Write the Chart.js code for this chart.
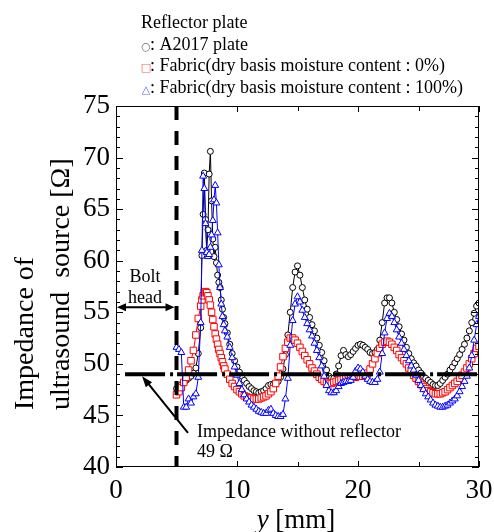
<!DOCTYPE html>
<html>
<head>
<meta charset="utf-8">
<script src="https://cdn.jsdelivr.net/npm/chart.js@4.4.1/dist/chart.umd.min.js"></script>
<style>
  html, body { margin: 0; padding: 0; background: #fff; }
</style>
</head>
<body>
<canvas id="impedanceChart" width="494" height="532"></canvas>
<script>
// measurement positions y [mm]
const positions = [
  5.0, 5.2, 5.4, 5.6, 5.8, 6.0, 6.2, 6.4, 6.6, 6.8,
  7.0, 7.1, 7.2, 7.3, 7.4, 7.5, 7.6, 7.7, 7.8, 7.9, 8.0, 8.1, 8.2, 8.3, 8.4, 8.5, 8.6, 8.7, 8.8, 8.9, 9.0,
  9.2, 9.4, 9.6, 9.8, 10.0, 10.2, 10.4, 10.6, 10.8, 11.0,
  11.2, 11.4, 11.6, 11.8, 12.0, 12.2, 12.4, 12.6, 12.8, 13.0,
  13.2, 13.4, 13.6, 13.8, 14.0, 14.2, 14.4, 14.6, 14.8, 15.0,
  15.2, 15.4, 15.6, 15.8, 16.0, 16.2, 16.4, 16.6, 16.8, 17.0,
  17.2, 17.4, 17.6, 17.8, 18.0, 18.2, 18.4, 18.6, 18.8, 19.0,
  19.2, 19.4, 19.6, 19.8, 20.0, 20.2, 20.4, 20.6, 20.8, 21.0,
  21.2, 21.4, 21.6, 21.8, 22.0, 22.2, 22.4, 22.6, 22.8, 23.0,
  23.2, 23.4, 23.6, 23.8, 24.0, 24.2, 24.4, 24.6, 24.8, 25.0,
  25.2, 25.4, 25.6, 25.8, 26.0, 26.2, 26.4, 26.6, 26.8, 27.0,
  27.2, 27.4, 27.6, 27.8, 28.0, 28.2, 28.4, 28.6, 28.8, 29.0,
  29.2, 29.4, 29.6, 29.8, 30.0
];

// impedance [Ohm], A2017 plate
const a2017Plate = [
  47.6, 47.8, 48.0, 48.2, 48.4, 48.6, 48.8, 49.1, 49.6, 51.0,
  53.5, 60.5, 64.5, 68.5, 64.0, 61.0, 63.0, 68.4, 70.6, 65.8, 62.1, 60.4, 61.3, 59.8, 58.6, 57.9, 57.4, 56.2, 55.3, 54.5, 53.9,
  53.0, 51.9, 51.0, 50.3, 49.7, 49.2, 48.8, 48.4, 48.1, 47.8,
  47.6, 47.4, 47.3, 47.2, 47.3, 47.4, 47.6, 47.9, 48.0, 48.0,
  48.1, 48.3, 48.7, 49.5, 50.9, 52.8, 55.0, 57.4, 58.9, 59.5,
  58.6, 57.4, 56.2, 55.3, 54.5, 53.8, 53.2, 52.5, 51.8, 51.1,
  50.3, 49.4, 48.8, 48.6, 48.6, 49.0, 49.8, 50.8, 51.3, 50.9,
  50.7, 50.9, 51.2, 51.5, 51.8, 51.9, 51.8, 51.6, 51.4, 51.1,
  51.0, 51.1, 51.4, 52.3, 54.0, 55.9, 56.4, 56.4, 55.9, 55.0,
  54.3, 53.6, 52.9, 52.3, 51.6, 51.0, 50.5, 50.1, 49.8, 49.4,
  49.1, 48.8, 48.6, 48.4, 48.2, 48.0, 47.9, 47.9, 48.1, 48.4,
  48.7, 49.0, 49.4, 49.7, 50.1, 50.5, 50.9, 51.4, 51.9, 52.5,
  53.2, 54.0, 54.9, 55.6, 55.9
];

// impedance [Ohm], fabric 0 %
const fabricDry = [
  47.0, 47.3, 47.7, 48.2, 48.7, 49.4, 50.3, 51.3, 52.8, 54.4,
  55.6, 56.2, 56.6, 56.9, 57.0, 56.9, 56.6, 56.2, 55.7, 55.0, 54.3, 53.6, 52.9, 52.4, 51.9, 51.4, 51.0, 50.6, 50.2, 49.8, 49.5,
  49.0, 48.5, 48.1, 47.8, 47.5, 47.3, 47.1, 46.9, 46.8, 46.7,
  46.7, 46.6, 46.6, 46.6, 46.7, 46.8, 46.9, 47.1, 47.3, 47.6,
  48.1, 48.8, 49.7, 50.7, 51.5, 52.1, 52.5, 52.5, 52.3, 52.0,
  51.6, 51.2, 50.8, 50.4, 50.0, 49.6, 49.3, 49.0, 48.7, 48.5,
  48.3, 48.2, 48.1, 48.1, 48.2, 48.3, 48.4, 48.5, 48.6, 48.6,
  48.7, 48.7, 48.7, 48.7, 48.8, 48.8, 48.8, 48.9, 49.1, 49.5,
  50.0, 50.5, 51.0, 51.5, 51.9, 52.1, 52.2, 52.1, 51.9, 51.6,
  51.3, 50.9, 50.6, 50.3, 50.0, 49.6, 49.3, 48.9, 48.6, 48.3,
  48.0, 47.8, 47.6, 47.4, 47.3, 47.2, 47.1, 47.1, 47.1, 47.2,
  47.3, 47.5, 47.7, 47.9, 48.1, 48.3, 48.6, 48.9, 49.2, 49.6,
  50.0, 50.5, 51.0, 51.5, 51.7
];

// impedance [Ohm], fabric 100 %
const fabricWet = [
  51.6, 51.4, 51.1, 45.8, 45.8, 46.6, 46.2, 46.8, 47.1, 48.7,
  54.0, 61.0, 68.2, 67.0, 63.6, 60.8, 60.4, 60.6, 61.3, 62.5, 63.9, 65.9, 67.3, 65.6, 62.7, 59.6, 57.4, 55.8, 54.6, 53.8, 53.2,
  52.6, 51.6, 50.6, 49.7, 48.9, 48.1, 47.5, 47.0, 46.6, 46.3,
  46.0, 45.8, 45.6, 45.4, 45.3, 45.2, 45.2, 45.5, 45.6, 45.2,
  45.0, 44.9, 44.9, 45.1, 46.6, 48.6, 51.8, 54.2, 55.8, 56.5,
  56.0, 55.2, 54.5, 53.9, 53.3, 52.7, 52.0, 51.3, 50.6, 49.8,
  48.8, 47.9, 47.4, 47.2, 47.2, 47.4, 47.8, 48.1, 48.2, 48.3,
  48.3, 48.4, 48.7, 49.3, 49.6, 49.5, 49.2, 48.8, 48.5, 48.3,
  48.2, 48.2, 48.5, 49.2, 51.0, 53.0, 54.4, 54.9, 54.6, 54.0,
  53.3, 52.6, 52.0, 51.4, 50.8, 50.3, 49.8, 49.4, 48.9, 48.4,
  47.9, 47.5, 47.1, 46.8, 46.5, 46.2, 46.0, 45.9, 45.8, 45.8,
  45.9, 46.0, 46.2, 46.4, 46.6, 46.9, 47.3, 47.8, 48.3, 48.8,
  49.6, 50.8, 52.3, 53.8, 54.6
];

const boltEdge = 5;          // mm
const noReflector = 49;      // Ohm
const xLabels = [0, 10, 20, 30];
const xMinor = [5, 15, 25];
const yLabels = [40, 45, 50, 55, 60, 65, 70, 75];

const legendLines = [
  { mark: '', color: '#000', text: 'Reflector plate' },
  { mark: '\u25CB', color: '#666', text: ': A2017 plate' },
  { mark: '\u25A1', color: '#f06060', text: ': Fabric(dry basis moisture content : 0%)' },
  { mark: '\u25B3', color: '#6060ff', text: ': Fabric(dry basis moisture content : 100%)' }
];

const serif = "'Liberation Serif', 'Times New Roman', serif";

function toPoints(vals) {
  return positions.map((p, i) => ({ x: p, y: vals[i] }));
}

function arrowHead(ctx, fx, fy, tx, ty, len, half) {
  const a = Math.atan2(ty - fy, tx - fx);
  ctx.beginPath();
  ctx.moveTo(tx, ty);
  ctx.lineTo(tx - len * Math.cos(a) + half * Math.sin(a), ty - len * Math.sin(a) - half * Math.cos(a));
  ctx.lineTo(tx - len * Math.cos(a) - half * Math.sin(a), ty - len * Math.sin(a) + half * Math.cos(a));
  ctx.closePath();
  ctx.fill();
}

const decorPlugin = {
  id: 'decor',
  afterDraw(chart) {
    const ctx = chart.ctx;
    const xs = chart.scales.x, ys = chart.scales.y;
    const { left, right, top, bottom } = chart.chartArea;
    ctx.save();
    ctx.strokeStyle = '#000';
    ctx.fillStyle = '#000';
    ctx.lineWidth = 1;

    // frame
    ctx.strokeRect(left + 0.5, top + 0.5, right - left - 1, bottom - top - 1);

    // inward ticks
    ctx.beginPath();
    xLabels.concat(xMinor).forEach(v => {
      const px = Math.round(xs.getPixelForValue(v)) + 0.5;
      const len = v % 10 === 0 ? 6 : 5;
      ctx.moveTo(px, bottom); ctx.lineTo(px, bottom - len);
      ctx.moveTo(px, top); ctx.lineTo(px, top + len);
    });
    for (let v = 40; v <= 75; v++) {
      const py = Math.round(ys.getPixelForValue(v)) + 0.5;
      const len = v % 5 === 0 ? 7 : 4;
      ctx.moveTo(left, py); ctx.lineTo(left + len, py);
      ctx.moveTo(right, py); ctx.lineTo(right - len, py);
    }
    ctx.stroke();

    // bolt head arrow
    ctx.lineWidth = 2;
    const ay = ys.getPixelForValue(55.5);
    const ax0 = xs.getPixelForValue(0) + 1, ax1 = xs.getPixelForValue(boltEdge) - 2;
    ctx.beginPath();
    ctx.moveTo(ax0 + 6, ay); ctx.lineTo(ax1 - 6, ay);
    ctx.stroke();
    arrowHead(ctx, ax1, ay, ax0, ay, 9, 4);
    arrowHead(ctx, ax0, ay, ax1, ay, 9, 4);

    ctx.font = '18px ' + serif;
    ctx.textAlign = 'center';
    ctx.textBaseline = 'alphabetic';
    ctx.fillText('Bolt', xs.getPixelForValue(2.4), 282);
    ctx.fillText('head', xs.getPixelForValue(2.4), 303);

    // pointer to the no-reflector level
    const tx = xs.getPixelForValue(2.15), ty = ys.getPixelForValue(noReflector) + 2;
    const fx = xs.getPixelForValue(5.95), fy = ys.getPixelForValue(43.3);
    ctx.beginPath();
    ctx.moveTo(fx, fy); ctx.lineTo(tx + 5, ty + 6);
    ctx.stroke();
    arrowHead(ctx, fx, fy, tx, ty, 11, 4);

    ctx.textAlign = 'left';
    ctx.fillText('Impedance without reflector', xs.getPixelForValue(6.7), 437);
    ctx.fillText('49 \u03A9', xs.getPixelForValue(6.7), 457);

    // legend block
    legendLines.forEach((ln, i) => {
      const by = 28 + i * 21.6;
      if (ln.mark) {
        ctx.font = "11px 'DejaVu Sans'";
        ctx.fillStyle = ln.color;
        ctx.textAlign = 'center';
        ctx.fillText(ln.mark, 146, by);
        ctx.fillStyle = '#000';
        ctx.font = '18px ' + serif;
        ctx.textAlign = 'left';
        ctx.fillText(ln.text, 150, by);
      } else {
        ctx.font = '18px ' + serif;
        ctx.textAlign = 'left';
        ctx.fillText(ln.text, 141, by);
      }
    });

    // x title with italic y
    ctx.font = 'italic 27px ' + serif;
    const w1 = ctx.measureText('y').width;
    ctx.font = '27px ' + serif;
    const w2 = ctx.measureText(' [mm]').width;
    const sx = 296 - (w1 + w2) / 2;
    ctx.font = 'italic 27px ' + serif;
    ctx.fillText('y', sx, 528);
    ctx.font = '27px ' + serif;
    ctx.fillText(' [mm]', sx + w1, 528);

    // y title, two lines
    ctx.font = '28px ' + serif;
    ctx.textBaseline = 'middle';
    ctx.save();
    ctx.translate(26, 410);
    ctx.rotate(-Math.PI / 2);
    ctx.fillText('Impedance of', 0, 0);
    ctx.restore();
    ctx.save();
    ctx.translate(62, 410);
    ctx.rotate(-Math.PI / 2);
    ctx.fillText('ultrasound  source [\u03A9]', 0, 0);
    ctx.restore();

    ctx.restore();
  }
};

new Chart(document.getElementById('impedanceChart').getContext('2d'), {
  type: 'line',
  data: {
    datasets: [
      {
        label: 'Bolt head edge',
        data: [{ x: boltEdge, y: 75 }, { x: boltEdge, y: 40 }],
        borderColor: '#000', borderWidth: 4, borderDash: [14, 11],
        pointRadius: 0, order: 0
      },
      {
        label: 'Impedance without reflector',
        data: [{ x: 0.75, y: noReflector }, { x: 30, y: noReflector }],
        borderColor: '#000', borderWidth: 4, borderDash: [40, 5, 3, 4],
        pointRadius: 0, order: 0
      },
      {
        label: 'Fabric (100%)',
        data: toPoints(fabricWet),
        borderColor: '#0000ff', borderWidth: 1,
        pointStyle: 'triangle', pointRadius: 4, pointBorderWidth: 1,
        pointBorderColor: '#0000ff', pointBackgroundColor: '#ffffff',
        order: 1
      },
      {
        label: 'Fabric (0%)',
        data: toPoints(fabricDry),
        borderColor: '#ff0000', borderWidth: 1,
        pointStyle: 'rect', pointRadius: 4.6, pointBorderWidth: 1,
        pointBorderColor: '#ff0000', pointBackgroundColor: '#ffffff',
        order: 2
      },
      {
        label: 'A2017 plate',
        data: toPoints(a2017Plate),
        borderColor: '#000000', borderWidth: 1,
        pointStyle: 'circle', pointRadius: 3, pointBorderWidth: 1,
        pointBorderColor: '#000000', pointBackgroundColor: '#ffffff',
        order: 3
      }
    ]
  },
  options: {
    responsive: false,
    animation: false,
    devicePixelRatio: 1,
    layout: { padding: { top: 106, right: 15, left: 0, bottom: 0 } },
    plugins: { legend: { display: false }, tooltip: { enabled: false } },
    scales: {
      x: {
        type: 'linear', min: 0, max: 30,
        afterFit: s => { s.height = 65; s.paddingLeft = 0; s.paddingRight = 0; },
        afterBuildTicks: s => { s.ticks = xLabels.map(v => ({ value: v })); },
        grid: { display: false, drawTicks: false },
        border: { display: false },
        ticks: { color: '#000', font: { family: serif, size: 27 }, padding: 8, maxRotation: 0 }
      },
      y: {
        type: 'linear', min: 40, max: 75,
        afterFit: s => { s.width = 116; s.paddingTop = 0; s.paddingBottom = 0; },
        afterBuildTicks: s => { s.ticks = yLabels.map(v => ({ value: v })); },
        grid: { display: false, drawTicks: false },
        border: { display: false },
        ticks: { color: '#000', font: { family: serif, size: 27 }, padding: 6 }
      }
    }
  },
  plugins: [decorPlugin]
});
</script>
</body>
</html>
